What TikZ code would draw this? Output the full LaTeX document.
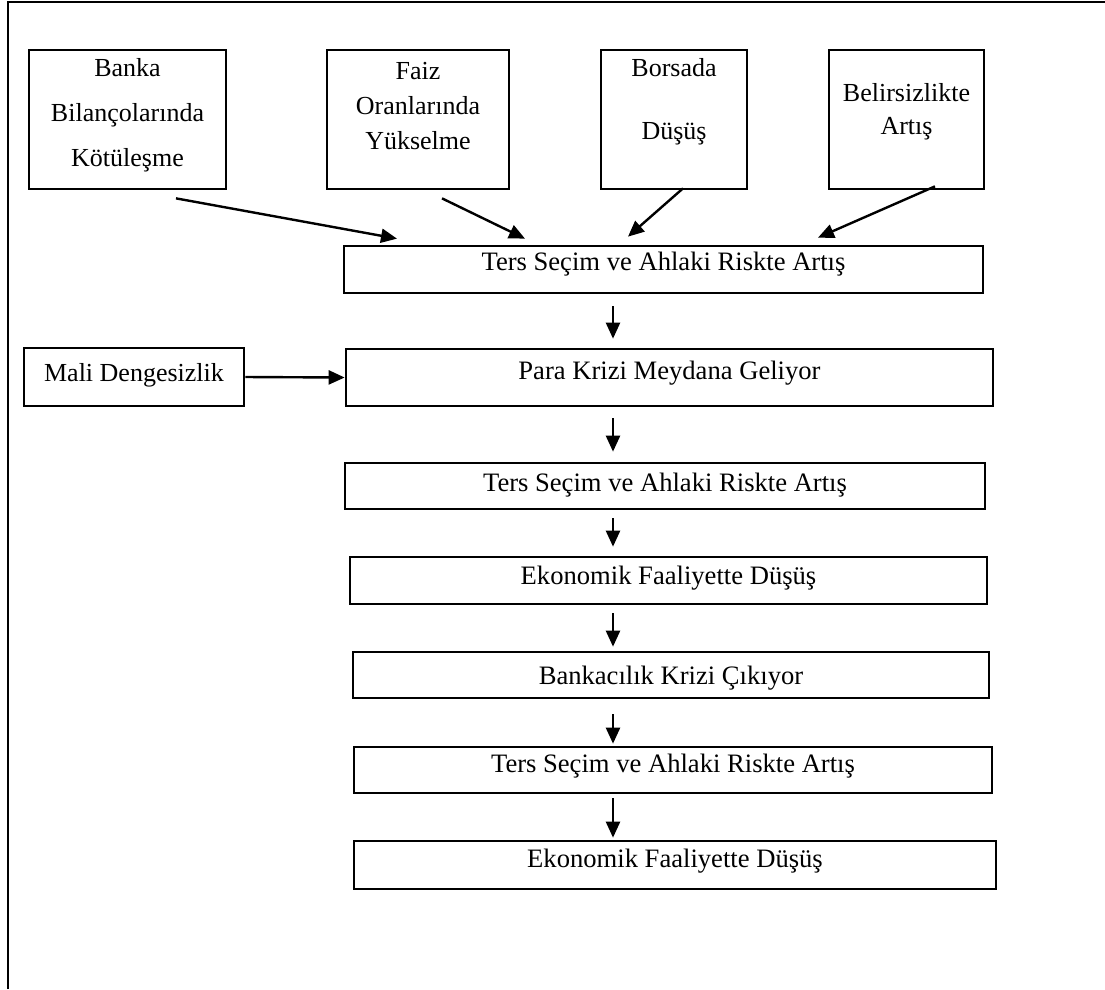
\documentclass[tikz,border=0pt]{standalone}
\usepackage{fontspec}
\setmainfont{Liberation Serif}
\usetikzlibrary{arrows.meta,calc}
\tikzset{
  box/.style={draw, line width=2.7pt, inner sep=0pt, font=\fontsize{26.6}{30}\selectfont},
  topbox/.style={box, minimum height=139pt, font=\fontsize{26}{30}\selectfont},
  tb/.style 2 args={text height=#1pt, text depth=#2pt},
  arr/.style={line width=2.4pt, -{Triangle[length=16pt,width=14pt]}},
  frame/.style={line width=2.6pt}
}
\begin{document}
\begin{tikzpicture}[x=1pt,y=-1pt]
\useasboundingbox (0,0) rectangle (1105,989);
\draw[frame] (8,989) -- (8,2) -- (1105,2);

% top row
\node[topbox, minimum width=197pt, tb={13}{100}] (b1) at (127.5,119.5)
  {\begin{tabular}[t]{@{}c@{}}Banka\\[15pt]Bilançolarında\\[15pt]Kötüleşme\end{tabular}};
\node[topbox, minimum width=182pt, tb={19}{100}] (b2) at (418,119.5)
  {\begin{tabular}[t]{@{}c@{}}Faiz\\[5pt]Oranlarında\\[5pt]Yükselme\end{tabular}};
\node[topbox, minimum width=146pt, tb={13}{100}] (b3) at (674,119.5)
  {\begin{tabular}[t]{@{}c@{}}Borsada\\[33pt]Düşüş\end{tabular}};
\node[topbox, minimum width=155pt, tb={23}{60}] (b4) at (906.5,119.5)
  {\begin{tabular}[t]{@{}c@{}}Belirsizlikte\\[3pt]Artış\end{tabular}};

% chain
\node[box, minimum width=639pt, minimum height=47pt, tb={7}{6}] (t1) at (663.5,269.5) {Ters Seçim ve Ahlaki Riskte Artış};
\node[box, minimum width=647pt, minimum height=57pt, tb={9}{6}] (para) at (669.5,377.5) {Para Krizi Meydana Geliyor};
\node[box, minimum width=220pt, minimum height=58pt, tb={14}{6}, font=\fontsize{26}{30}\selectfont] (mali) at (134,377) {Mali Dengesizlik};
\node[box, minimum width=640pt, minimum height=46pt, tb={16}{6}] (t2) at (665,486) {Ters Seçim ve Ahlaki Riskte Artış};
\node[box, minimum width=637pt, minimum height=47pt, tb={13}{6}] (e1) at (668.5,580.5) {Ekonomik Faaliyette Düşüş};
\node[box, minimum width=636pt, minimum height=46pt, tb={24}{6}] (bank) at (671,675) {Bankacılık Krizi Çıkıyor};
\node[box, minimum width=638pt, minimum height=46pt, tb={10}{6}] (t3) at (673,770) {Ters Seçim ve Ahlaki Riskte Artış};
\node[box, minimum width=642pt, minimum height=48pt, tb={10}{6}] (e2) at (675,865) {Ekonomik Faaliyette Düşüş};

% diagonal arrows
\draw[arr] ($(b1.south)+(48.5,8)$) -- ($(t1.north)+(-266.5,-6)$);
\draw[arr] ($(b2.south)+(24,8)$) -- ($(t1.north)+(-138.5,-6)$);
\draw[arr] ($(b3.south)+(9,-2)$) -- ($(t1.north)+(-35.5,-8)$);
\draw[arr] ($(b4.south)+(28.5,-4)$) -- ($(t1.north)+(154.5,-7)$);

% horizontal arrow
\draw[arr] (mali.east) -- (para.west);

% vertical arrows
\coordinate (xa) at (613,0);
\draw[arr, shorten <=12pt, shorten >=9pt] (t1.south -| xa) -- (para.north -| xa);
\draw[arr, shorten <=11pt, shorten >=10pt] (para.south -| xa) -- (t2.north -| xa);
\draw[arr, shorten <=8pt, shorten >=9pt] (t2.south -| xa) -- (e1.north -| xa);
\draw[arr, shorten <=8pt, shorten >=4pt] (e1.south -| xa) -- (bank.north -| xa);
\draw[arr, shorten <=15pt, shorten >=2pt] (bank.south -| xa) -- (t3.north -| xa);
\draw[arr, shorten <=4pt, shorten >=2pt] (t3.south -| xa) -- (e2.north -| xa);
\end{tikzpicture}
\end{document}
